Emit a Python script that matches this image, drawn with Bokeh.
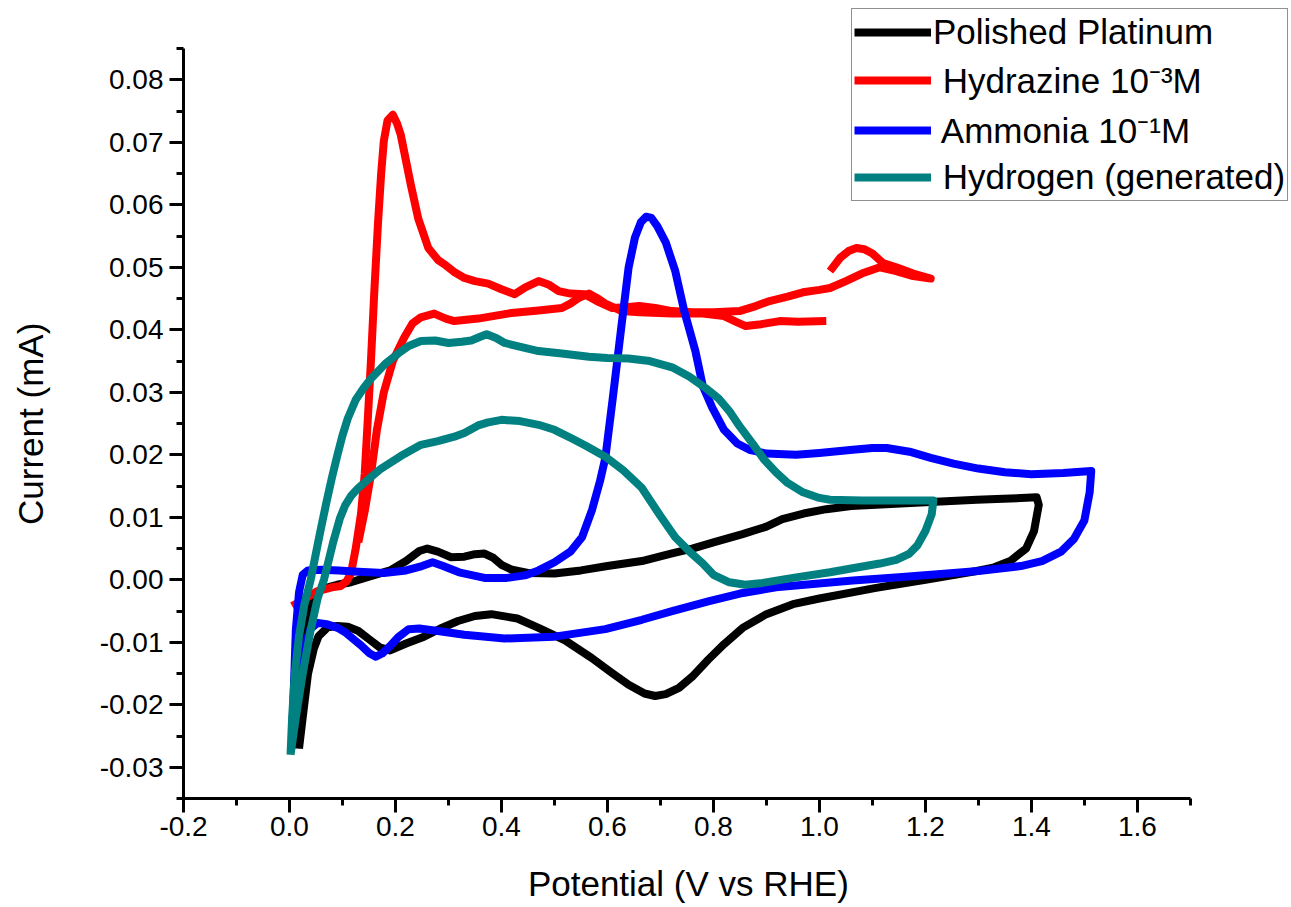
from bokeh.plotting import figure
from bokeh.models import FixedTicker, Legend, LegendItem
from bokeh.embed import file_html
from bokeh.resources import INLINE

# ---------------- data ----------------
# Polished Platinum: potential (V vs RHE), current (mA)
pt_v = [0.012, 0.02, 0.03, 0.045, 0.06, 0.09, 0.116, 0.15, 0.19, 0.22, 0.245, 0.26, 0.28, 0.305,
        0.33, 0.35, 0.368, 0.385, 0.40, 0.42, 0.45, 0.50, 0.55, 0.60, 0.665, 0.72, 0.76, 0.80,
        0.855, 0.90, 0.93, 0.97, 1.013, 1.06, 1.107, 1.2, 1.297, 1.36, 1.41,
        1.414, 1.405, 1.39, 1.36, 1.33, 1.297, 1.2, 1.107, 1.0, 0.95, 0.90, 0.855, 0.82, 0.79,
        0.76, 0.735, 0.71, 0.69, 0.67, 0.64, 0.61, 0.57, 0.52, 0.47, 0.43, 0.381, 0.35, 0.318,
        0.285, 0.254, 0.22, 0.19, 0.17, 0.15, 0.13, 0.11, 0.09, 0.072, 0.055, 0.046, 0.035,
        0.025, 0.018]
pt_i = [-0.027, -0.016, -0.007, -0.003, -0.0015, -0.0008, -0.0004, 0.0005, 0.0015, 0.003, 0.0046,
        0.005, 0.0045, 0.0036, 0.0037, 0.0041, 0.0042, 0.0035, 0.0024, 0.0016, 0.0011, 0.001,
        0.0015, 0.0022, 0.003, 0.0042, 0.005, 0.006, 0.0073, 0.0085, 0.0097, 0.0106, 0.0113,
        0.0118, 0.012, 0.0124, 0.0128, 0.013, 0.0132,
        0.012, 0.0078, 0.005, 0.003, 0.002, 0.0014, 0.0, -0.0013, -0.003, -0.0039, -0.0055,
        -0.0077, -0.0103, -0.0128, -0.0155, -0.0173, -0.0183, -0.0186, -0.0182, -0.0168, -0.015,
        -0.0125, -0.0097, -0.0077, -0.0062, -0.0055, -0.0058, -0.0066, -0.0078, -0.0091, -0.0102,
        -0.0113, -0.0108, -0.0095, -0.0082, -0.0075, -0.0074, -0.0076, -0.009, -0.011, -0.015,
        -0.022, -0.027]

# Hydrazine 10^-3 M (two traces)
hz1_v = [0.005, 0.02, 0.053, 0.08, 0.097, 0.108, 0.116, 0.125, 0.135, 0.142, 0.148, 0.154, 0.16,
         0.167, 0.173, 0.178, 0.185, 0.195, 0.203, 0.21, 0.22, 0.229, 0.243, 0.262, 0.28, 0.292,
         0.31, 0.33, 0.35, 0.375, 0.40, 0.425, 0.445, 0.47, 0.49, 0.508, 0.53, 0.557, 0.58, 0.608,
         0.635, 0.66, 0.69, 0.722, 0.76, 0.80, 0.849, 0.88, 0.906, 0.94, 0.969, 1.0, 1.02, 1.05,
         1.08, 1.114, 1.145, 1.177, 1.21,
         1.177, 1.145, 1.12, 1.10, 1.085, 1.07, 1.055, 1.039, 1.02]
hz1_i = [-0.0042, -0.0035, -0.0018, -0.0012, -0.001, -0.0002, 0.001, 0.005, 0.0106, 0.017, 0.026,
         0.0355, 0.046, 0.057, 0.065, 0.0702, 0.0735, 0.0744, 0.073, 0.0712, 0.067, 0.0632, 0.0578,
         0.0531, 0.0512, 0.0505, 0.0493, 0.0483, 0.0478, 0.0474, 0.0465, 0.0457, 0.0468, 0.0478,
         0.0472, 0.0462, 0.0458, 0.0457, 0.0446, 0.0435, 0.0436, 0.0438, 0.0435, 0.043, 0.0428,
         0.0428, 0.043, 0.0438, 0.0446, 0.0453, 0.046, 0.0464, 0.0467, 0.0478, 0.049, 0.05, 0.0494,
         0.0486, 0.0482,
         0.049, 0.05, 0.0507, 0.0522, 0.0529, 0.0531, 0.0526, 0.0515, 0.0494]
hz2_v = [0.13, 0.142, 0.154, 0.165, 0.178, 0.195, 0.216, 0.232, 0.248, 0.273, 0.295, 0.311, 0.356,
         0.419, 0.47, 0.514, 0.53, 0.546, 0.565, 0.58, 0.596, 0.627, 0.66, 0.722, 0.78, 0.82,
         0.845, 0.861, 0.89, 0.925, 0.96, 1.013]
hz2_i = [0.006, 0.011, 0.017, 0.024, 0.030, 0.035, 0.0387, 0.041, 0.042, 0.0426, 0.0418, 0.0414,
         0.0418, 0.0427, 0.0431, 0.0435, 0.0442, 0.0451, 0.0458, 0.0451, 0.0442, 0.043, 0.0428,
         0.0426, 0.0426, 0.0422, 0.0412, 0.0406, 0.0409, 0.0414, 0.0413, 0.0414]

# Ammonia 10^-1 M
nh_v = [0.005, 0.008, 0.012, 0.018, 0.025, 0.035, 0.06, 0.093, 0.13, 0.178, 0.22, 0.25, 0.27, 0.29,
        0.32, 0.368, 0.41, 0.444, 0.47, 0.50, 0.53, 0.552, 0.571, 0.586, 0.596, 0.61, 0.627, 0.64,
        0.652, 0.663, 0.673, 0.683, 0.694, 0.71, 0.728, 0.745, 0.766, 0.78, 0.798, 0.82, 0.845,
        0.868, 0.9, 0.956, 1.0, 1.063, 1.1, 1.127, 1.17, 1.21, 1.253, 1.30, 1.35, 1.40, 1.46,
        1.513,
        1.51, 1.50, 1.48, 1.456, 1.42, 1.38, 1.3, 1.253, 1.15, 1.063, 0.918, 0.85, 0.792, 0.722,
        0.665, 0.596, 0.50, 0.406, 0.33, 0.28, 0.245, 0.225, 0.205, 0.19, 0.175, 0.163, 0.15,
        0.135, 0.122, 0.105, 0.091, 0.07, 0.053, 0.04, 0.027, 0.015, 0.008, 0.005]
nh_i = [-0.025, -0.018, -0.008, -0.002, 0.0008, 0.0015, 0.0016, 0.0015, 0.0013, 0.0011, 0.0015,
        0.0022, 0.0028, 0.0022, 0.0012, 0.0003, 0.0003, 0.0007, 0.0015, 0.0028, 0.0045, 0.0068,
        0.0112, 0.0158, 0.0195, 0.029, 0.041, 0.05, 0.0548, 0.0572, 0.0581, 0.0579, 0.0566, 0.054,
        0.0494, 0.043, 0.0366, 0.031, 0.0275, 0.024, 0.0218, 0.0208, 0.0202, 0.02, 0.0203, 0.0208,
        0.0211, 0.0211, 0.0205, 0.0195, 0.0186, 0.0178, 0.0172, 0.0169, 0.0171, 0.0174,
        0.014, 0.0095, 0.0065, 0.0045, 0.003, 0.0022, 0.0014, 0.0011, 0.0004, -0.0001, -0.0012,
        -0.0022, -0.0034, -0.005, -0.0064, -0.0079, -0.0091, -0.0094, -0.0088, -0.0082, -0.0078,
        -0.0079, -0.0092, -0.0106, -0.0118, -0.0123, -0.0117, -0.0105, -0.0096, -0.0084, -0.0077,
        -0.0071, -0.0069, -0.0078, -0.011, -0.017, -0.022, -0.025]

# Hydrogen (generated)
h2_v = [0.002, 0.005, 0.01, 0.018, 0.028, 0.04, 0.05, 0.06, 0.07, 0.08, 0.09, 0.10, 0.11, 0.125,
        0.14, 0.154, 0.18, 0.205, 0.225, 0.248, 0.275, 0.30, 0.325, 0.343, 0.36, 0.372, 0.39,
        0.406, 0.44, 0.47, 0.514, 0.565, 0.60, 0.64, 0.68, 0.722, 0.755, 0.785, 0.81, 0.83, 0.85,
        0.874, 0.895, 0.918, 0.94, 0.969, 1.0, 1.02, 1.08, 1.145, 1.215,
        1.212, 1.20, 1.185, 1.17, 1.145, 1.114, 1.06, 1.02, 0.95, 0.893, 0.86, 0.83, 0.80, 0.78,
        0.755, 0.728, 0.70, 0.665, 0.63, 0.596, 0.56, 0.533, 0.50, 0.47, 0.435, 0.40, 0.375,
        0.356, 0.33, 0.311, 0.28, 0.248, 0.21, 0.173, 0.145, 0.13, 0.116, 0.105, 0.095, 0.083,
        0.065, 0.053, 0.04, 0.025, 0.012, 0.002]
h2_i = [-0.028, -0.022, -0.015, -0.009, -0.004, 0.0, 0.0043, 0.0085, 0.0125, 0.0163, 0.0198,
        0.0231, 0.0258, 0.0288, 0.0307, 0.0322, 0.0345, 0.0362, 0.0374, 0.0382, 0.0383, 0.0379,
        0.0381, 0.0383, 0.0389, 0.0393, 0.0387, 0.0379, 0.0372, 0.0366, 0.0362, 0.0357, 0.0355,
        0.0354, 0.035, 0.034, 0.0325, 0.0307, 0.029, 0.027, 0.0245, 0.0218, 0.0193, 0.0172,
        0.0155, 0.014, 0.0131, 0.0128, 0.0127, 0.0127, 0.0127,
        0.0105, 0.0078, 0.0055, 0.0042, 0.0032, 0.0026, 0.0018, 0.0012, 0.0003, -0.0005, -0.0008,
        -0.0004, 0.0008, 0.0026, 0.0045, 0.0068, 0.0102, 0.0147, 0.0175, 0.0197, 0.0214, 0.0226,
        0.024, 0.0248, 0.0254, 0.0256, 0.0252, 0.0247, 0.0235, 0.0229, 0.0222, 0.0216, 0.0198,
        0.0178, 0.0158, 0.0147, 0.0134, 0.0119, 0.0098, 0.0062, 0.0, -0.003, -0.008, -0.015,
        -0.022, -0.028]

series_names = ["Polished Platinum", " Hydrazine 10\u207b\u00b3M", " Ammonia 10\u207b\u00b9M",
                " Hydrogen (generated)"]
series_colors = ["#000000", "#ff0000", "#0000ff", "#008080"]

x_ticks = [-0.2, 0.0, 0.2, 0.4, 0.6, 0.8, 1.0, 1.2, 1.4, 1.6]
x_tick_labels = ["-0.2", "0.0", "0.2", "0.4", "0.6", "0.8", "1.0", "1.2", "1.4", "1.6"]
x_minor = [-0.1, 0.1, 0.3, 0.5, 0.7, 0.9, 1.1, 1.3, 1.5, 1.7]
y_ticks = [-0.03, -0.02, -0.01, 0.0, 0.01, 0.02, 0.03, 0.04, 0.05, 0.06, 0.07, 0.08]
y_tick_labels = ["-0.03", "-0.02", "-0.01", "0.00", "0.01", "0.02", "0.03", "0.04", "0.05",
                 "0.06", "0.07", "0.08"]
y_minor = [-0.035, -0.025, -0.015, -0.005, 0.005, 0.015, 0.025, 0.035, 0.045, 0.055, 0.065,
           0.075, 0.085]
x_axis_extent = (-0.2, 1.7)
y_axis_extent = (-0.035, 0.085)
x_title = "Potential (V vs RHE)"
y_title = "Current (mA)"

FONT = "Liberation Sans"
NBSP = "\u00a0"

# frame spans the whole upper-right area so the legend (which overhangs the axes) is not clipped
p = figure(width=1290, height=905, x_range=(-0.2, 1.889), y_range=(-0.035, 0.0927),
           output_backend="svg", toolbar_location=None,
           min_border_left=183, min_border_right=0, min_border_top=0, min_border_bottom=106)
p.grid.visible = False
p.outline_line_color = None
p.background_fill_color = "white"
p.border_fill_color = "white"

LW = 8
style = dict(line_width=LW, line_join="round", line_cap="butt")
r_pt = p.line(pt_v, pt_i, line_color=series_colors[0], **style)
r_hz1 = p.line(hz1_v, hz1_i, line_color=series_colors[1], **style)
r_hz2 = p.line(hz2_v, hz2_i, line_color=series_colors[1], **style)
r_nh = p.line(nh_v, nh_i, line_color=series_colors[2], **style)
r_h2 = p.line(h2_v, h2_i, line_color=series_colors[3], **style)

p.xaxis.ticker = FixedTicker(ticks=x_ticks, minor_ticks=x_minor)
p.yaxis.ticker = FixedTicker(ticks=y_ticks, minor_ticks=y_minor)
p.xaxis.major_label_overrides = dict(zip(x_ticks, x_tick_labels))
p.yaxis.major_label_overrides = dict(zip(y_ticks, y_tick_labels))
p.xaxis.bounds = x_axis_extent
p.yaxis.bounds = y_axis_extent
# axis titles are centred on the (wider) frame; trailing no-break spaces re-centre them on the axes
p.xaxis.axis_label = x_title + NBSP * 10
p.yaxis.axis_label = y_title + NBSP * 5

for ax in (p.xaxis[0], p.yaxis[0]):
    ax.axis_line_width = 3
    ax.axis_line_color = "black"
    ax.major_tick_line_width = 3
    ax.minor_tick_line_width = 3
    ax.major_tick_out = 14
    ax.major_tick_in = 0
    ax.minor_tick_out = 7
    ax.minor_tick_in = 0
    ax.major_label_text_font = FONT
    ax.major_label_text_font_size = "28px"
    ax.major_label_text_color = "black"
    ax.axis_label_text_font = FONT
    ax.axis_label_text_font_size = "35px"
    ax.axis_label_text_font_style = "normal"
    ax.axis_label_text_color = "black"

p.xaxis.major_label_standoff = 4
p.xaxis.axis_label_standoff = 25
p.yaxis.major_label_standoff = 6
p.yaxis.axis_label_standoff = 47

legend = Legend(items=[
    LegendItem(label=series_names[0], renderers=[r_pt]),
    LegendItem(label=series_names[1], renderers=[r_hz1]),
    LegendItem(label=series_names[2], renderers=[r_nh]),
    LegendItem(label=series_names[3], renderers=[r_h2]),
], location=(668, 597))
legend.label_text_font = FONT
legend.label_text_font_size = "35px"
legend.label_text_color = "black"
legend.glyph_width = 77
legend.glyph_height = 42
legend.label_height = 42
legend.label_standoff = 2
legend.spacing = 3
legend.padding = 2
legend.margin = 0
legend.border_line_color = "#222222"
legend.border_line_width = 1.5
legend.background_fill_color = "white"
legend.background_fill_alpha = 1.0
p.add_layout(legend)

open("out.html", "w").write(file_html(p, INLINE))
